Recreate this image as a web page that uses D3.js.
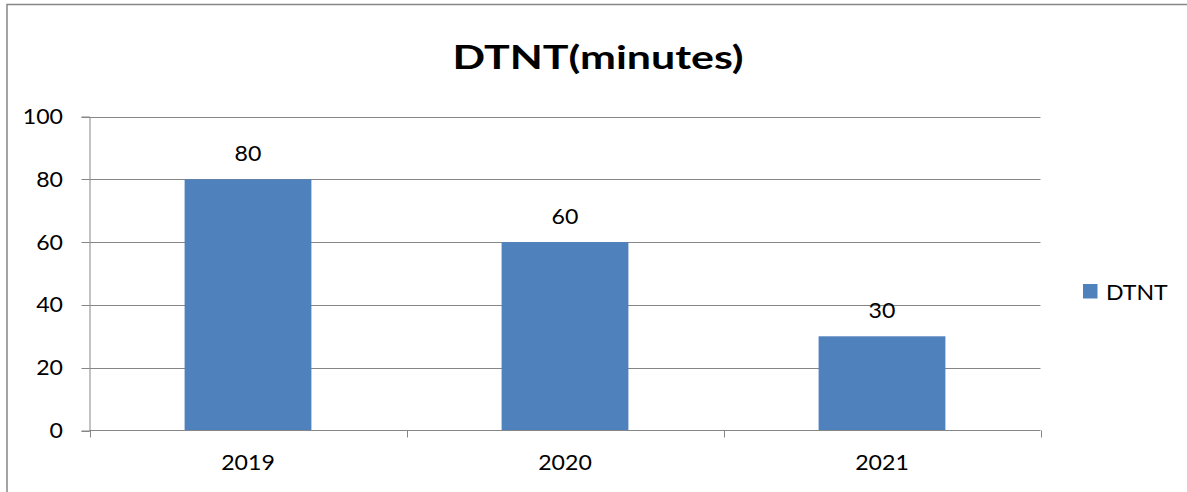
<!DOCTYPE html>
<html>
<head>
<meta charset="utf-8">
<script src="https://cdn.jsdelivr.net/npm/d3@7"></script>
<style>
  html, body { margin: 0; padding: 0; background: #fff; }
  svg { display: block; }
  text { font-family: Lato, "Open Sans", sans-serif; fill: #000; }
</style>
</head>
<body>
<svg id="chart" width="1187" height="492"></svg>
<script>
// Door-to-needle time by year
const years = ["2019", "2020", "2021"];
const dtntValues = [80, 60, 30];
const yTicks = [0, 20, 40, 60, 80, 100];
const seriesName = "DTNT";
const chartTitle = "DTNT(minutes)";

const W = 1187, H = 492;
const plot = { left: 89.5, right: 1040.5, top: 116.5, bottom: 430.5 };
const barColor = "#4F81BD";
const lineColor = "#868686";
const labelStretch = 1.1;  // wide glyph proportions of the labels
const titleStretch = 1.3;

const svg = d3.select("#chart");

// outer frame
svg.append("rect")
  .attr("x", 7).attr("y", 4.5)
  .attr("width", W).attr("height", H)
  .attr("fill", "none").attr("stroke", lineColor).attr("stroke-width", 1.5);

const x = d3.scaleBand().domain(years)
  .range([plot.left, plot.right])
  .paddingInner(0.6).paddingOuter(0.3);

const y = d3.scaleLinear().domain([0, 100]).range([plot.bottom, plot.top]);

function stretched(sel, tx, ty, s = labelStretch) {
  return sel.attr("transform", `translate(${tx},${ty}) scale(${s},1)`);
}

// horizontal gridlines
svg.append("g").selectAll("line").data(yTicks.filter(d => d > 0)).join("line")
  .attr("x1", plot.left).attr("x2", plot.right)
  .attr("y1", d => Math.round(y(d)) + 0.5).attr("y2", d => Math.round(y(d)) + 0.5)
  .attr("stroke", lineColor).attr("stroke-width", 1);

// bars
svg.append("g").selectAll("rect").data(years).join("rect")
  .attr("x", (d) => x(d))
  .attr("width", x.bandwidth())
  .attr("y", (d, i) => y(dtntValues[i]))
  .attr("height", (d, i) => y(0) - y(dtntValues[i]))
  .attr("fill", barColor);

// y axis
const yAxis = d3.axisLeft(y).tickValues(yTicks).tickSize(8).tickFormat("");
const gy = svg.append("g").attr("transform", `translate(${plot.left},0)`).call(yAxis);
gy.select(".domain").attr("stroke", lineColor);
gy.selectAll(".tick line").attr("stroke", lineColor);
gy.selectAll(".tick").attr("transform", d => `translate(0,${Math.round(y(d)) + 0.5})`);

// y tick labels
svg.append("g").selectAll("text").data(yTicks).join("text")
  .each(function (d) { stretched(d3.select(this), 63, y(d) + 7.5); })
  .attr("text-anchor", "end")
  .style("font-size", "21px")
  .text(d => d);

// x axis: baseline with ticks at category boundaries
const xEdges = [plot.left, ...years.map(d => x(d) + x.bandwidth() + x.step() * 0.3)];
const gx = svg.append("g");
gx.append("line")
  .attr("x1", plot.left).attr("x2", plot.right)
  .attr("y1", plot.bottom).attr("y2", plot.bottom)
  .attr("stroke", lineColor);
gx.selectAll("line.tick").data(xEdges).join("line").attr("class", "tick")
  .attr("x1", d => Math.round(d) + 0.5).attr("x2", d => Math.round(d) + 0.5)
  .attr("y1", plot.bottom).attr("y2", plot.bottom + 7)
  .attr("stroke", lineColor);

// x tick labels
svg.append("g").selectAll("text").data(years).join("text")
  .each(function (d) { stretched(d3.select(this), x(d) + x.bandwidth() / 2, 469.5); })
  .attr("text-anchor", "middle")
  .style("font-size", "21px")
  .text(d => d);

// value labels above bars
svg.append("g").selectAll("text").data(years).join("text")
  .each(function (d, i) { stretched(d3.select(this), x(d) + x.bandwidth() / 2, y(dtntValues[i]) - 18.5); })
  .attr("text-anchor", "middle")
  .style("font-size", "21px")
  .text((d, i) => dtntValues[i]);

// title
stretched(svg.append("text"), 598, 68.5, titleStretch)
  .attr("text-anchor", "middle")
  .style("font-size", "33px")
  .style("font-weight", "bold")
  .text(chartTitle);

// legend
const lg = svg.append("g");
lg.append("rect")
  .attr("x", 1083).attr("y", 284).attr("width", 14.5).attr("height", 14.5)
  .attr("fill", barColor);
stretched(lg.append("text"), 1106, 299.5)
  .style("font-size", "21px")
  .text(seriesName);
</script>
</body>
</html>
